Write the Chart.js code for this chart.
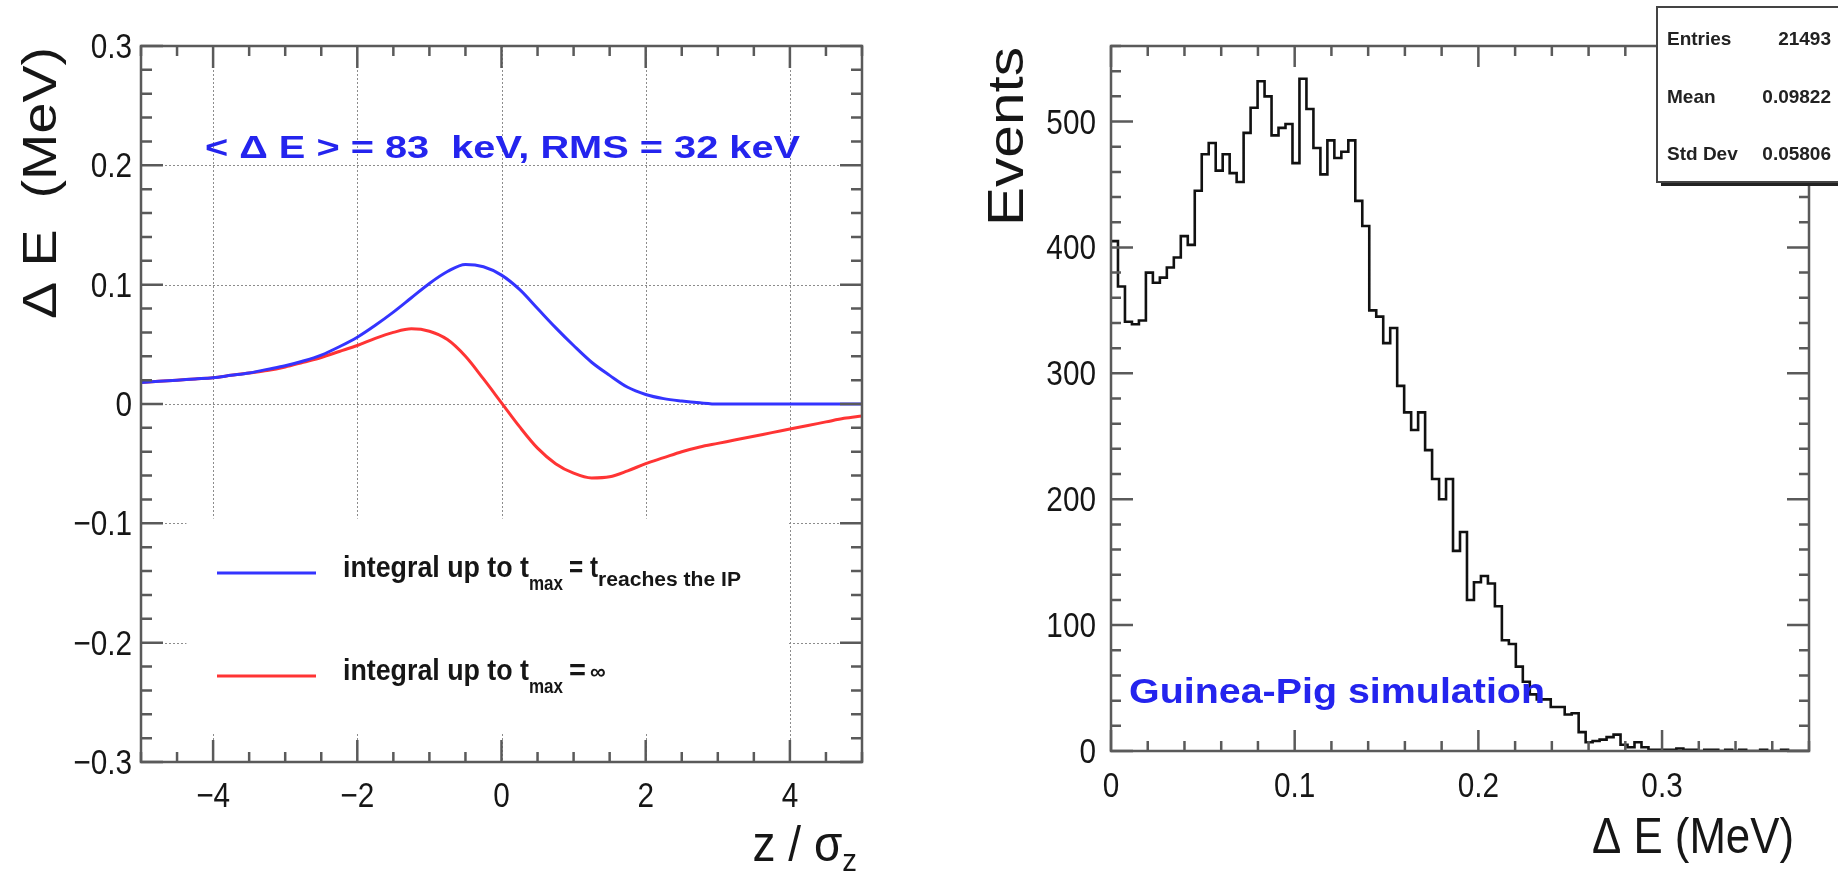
<!DOCTYPE html>
<html>
<head>
<meta charset="utf-8">
<script src="https://cdn.jsdelivr.net/npm/chart.js@4.4.1/dist/chart.umd.min.js"></script>
<style>
html, body { margin: 0; padding: 0; background: #fff; }
body { width: 1838px; height: 874px; position: relative; overflow: hidden; }
#left { position: absolute; left: 0; top: 0; }
#right { position: absolute; left: 930px; top: 0; }
</style>
</head>
<body>
<canvas id="left" width="930" height="874"></canvas>
<canvas id="right" width="908" height="874"></canvas>
<script>
// ---- left panel: energy change vs position in the bunch ----
const zPos = [-5, -4.75, -4.5, -4.25, -4, -3.75, -3.5, -3.25, -3, -2.75, -2.5, -2.25, -2, -1.75, -1.5, -1.25, -1, -0.75, -0.5, -0.25,
  0, 0.25, 0.5, 0.75, 1, 1.25, 1.5, 1.75, 2, 2.25, 2.5, 2.75, 3, 3.25, 3.5, 3.75, 4, 4.25, 4.5, 4.75, 5]
const dEReachIP = [0.018, 0.019, 0.020, 0.021, 0.022, 0.024, 0.026, 0.029, 0.032, 0.036, 0.041, 0.048, 0.056, 0.066, 0.077, 0.089, 0.101, 0.111, 0.117, 0.115,
  0.108, 0.096, 0.080, 0.064, 0.049, 0.035, 0.024, 0.014, 0.008, 0.0045, 0.0025, 0.001, 0, 0, 0, 0, 0, 0, 0, 0, 0]
const dEInfinity = [0.018, 0.019, 0.020, 0.021, 0.022, 0.024, 0.026, 0.028, 0.031, 0.035, 0.039, 0.044, 0.049, 0.055, 0.060, 0.063, 0.061, 0.054, 0.040, 0.021,
  0.001, -0.019, -0.037, -0.050, -0.058, -0.062, -0.061, -0.056, -0.050, -0.045, -0.040, -0.036, -0.033, -0.030, -0.027, -0.024, -0.021, -0.018, -0.015, -0.012, -0.010]
const zTicks = [-4, -2, 0, 2, 4]
const dETicks = [-0.3, -0.2, -0.1, 0, 0.1, 0.2, 0.3]

// ---- right panel: Guinea-Pig histogram, 100 bins on [0, 0.38] MeV ----
const eMin = 0
const eMax = 0.38
const counts = [405, 369, 341, 339, 342, 380, 372, 376, 384, 392,
  409, 402, 445, 474, 483, 461, 474, 459, 452, 491,
  511, 532, 520, 489, 495, 498, 467, 534, 510, 479,
  458, 485, 471, 476, 485, 437, 417, 350, 345, 324,
  336, 290, 269, 255, 269, 239, 216, 200, 216, 159,
  174, 120, 134, 139, 133, 115, 88, 85, 67, 55,
  45, 41, 41, 35, 35, 29, 30, 15, 7, 8,
  9, 11, 13, 5, 3, 7, 3, 1, 1, 1,
  1, 2, 1, 1, 0, 1, 1, 0, 1, 0,
  1, 0, 0, 1, 0, 0, 1, 0, 0, 0]
const eTicks = [0, 0.1, 0.2, 0.3]
const eventTicks = [0, 100, 200, 300, 400, 500]
const statNames = ["Entries", "Mean", "Std Dev"]
const statValues = ["21493", "0.09822", "0.05806"]

const FONT = "'Liberation Sans', Arial, Helvetica, sans-serif"
const BLUE_TXT = "#2424ee"
const TICK_FONT = "35px " + FONT

// draws text, optionally squeezed/stretched to a given width, returns the drawn width
function put(ctx, s, x, y, o = {}) {
	ctx.save()
	ctx.font = o.font || TICK_FONT
	ctx.fillStyle = o.color || "#161616"
	ctx.textBaseline = "alphabetic"
	ctx.textAlign = "left"
	const w = ctx.measureText(s).width
	const k = o.fit ? o.fit / w : (o.sx || 1)
	ctx.translate(x, y)
	if (o.rot) ctx.rotate(o.rot)
	ctx.scale(k, o.sy || 1)
	const shift = o.align === "right" ? -w : o.align === "center" ? -w / 2 : 0
	ctx.fillText(s, shift, 0)
	ctx.restore()
	return w * k
}

function steps(min, max, step) {
	const out = []
	for (let i = 0; ; i++) {
		const v = +(min + i * step).toFixed(6)
		if (v > max + 1e-9) break
		out.push(v)
	}
	return out
}

// ROOT style frame with inward ticks on all four sides
function rootFrame(ctx, a, x, y, t) {
	ctx.save()
	ctx.strokeStyle = "#5a5a5a"
	ctx.lineWidth = 2.5
	ctx.beginPath()
	const xt = (vals, len) => vals.forEach((v) => {
		const p = x.getPixelForValue(v)
		ctx.moveTo(p, a.bottom); ctx.lineTo(p, a.bottom - len)
		ctx.moveTo(p, a.top); ctx.lineTo(p, a.top + len)
	})
	const yt = (vals, len) => vals.forEach((v) => {
		const p = y.getPixelForValue(v)
		ctx.moveTo(a.left, p); ctx.lineTo(a.left + len, p)
		ctx.moveTo(a.right, p); ctx.lineTo(a.right - len, p)
	})
	xt(t.xMinor, t.xMinLen); xt(t.xMajor, t.xMajLen)
	yt(t.yMinor, t.yMinLen); yt(t.yMajor, t.yMajLen)
	ctx.stroke()
	ctx.strokeRect(a.left, a.top, a.right - a.left, a.bottom - a.top)
	ctx.restore()
}

const fmtSigned = (v, d) => (v === 0 ? "0" : (v < 0 ? "\u2212" : "") + Math.abs(v).toFixed(d))

const leftPanel = {
	id: "leftPanel",
	beforeDatasetsDraw(chart) {
		const { ctx, chartArea: a, scales: { x, y } } = chart
		ctx.save()
		ctx.strokeStyle = "#8c8c8c"
		ctx.lineWidth = 1
		ctx.setLineDash([2, 2])
		ctx.beginPath()
		zTicks.forEach((v) => {
			const p = Math.round(x.getPixelForValue(v)) + 0.5
			ctx.moveTo(p, a.top); ctx.lineTo(p, a.bottom)
		})
		dETicks.slice(1, -1).forEach((v) => {
			const p = Math.round(y.getPixelForValue(v)) + 0.5
			ctx.moveTo(a.left, p); ctx.lineTo(a.right, p)
		})
		ctx.stroke()
		ctx.restore()
		// legend pad hides the grid behind it
		const lx0 = x.getPixelForValue(-4.37), lx1 = x.getPixelForValue(3.97)
		const ly0 = y.getPixelForValue(-0.096), ly1 = y.getPixelForValue(-0.275)
		ctx.fillStyle = "#fff"
		ctx.fillRect(lx0, ly0, lx1 - lx0, ly1 - ly0)
	},
	afterDatasetsDraw(chart) {
		const { ctx, chartArea: a, scales: { x, y } } = chart
		rootFrame(ctx, a, x, y, {
			xMajor: zTicks, xMinor: steps(-5, 5, 0.5), xMajLen: 22, xMinLen: 10,
			yMajor: dETicks, yMinor: steps(-0.3, 0.3, 0.02), yMajLen: 22, yMinLen: 11,
		})
		zTicks.forEach((v) => put(ctx, fmtSigned(v, 0), x.getPixelForValue(v), 807, { align: "center", sx: 0.85 }))
		dETicks.forEach((v) => put(ctx, fmtSigned(v, 1), 132, y.getPixelForValue(v) + 12, { align: "right", sx: 0.85 }))

		// axis titles
		put(ctx, "\u0394 E  (MeV)", 56, 47, { font: "48px " + FONT, rot: -Math.PI / 2, align: "right", fit: 272 })
		const big = "50px " + FONT, small = "32px " + FONT
		ctx.font = small
		const wSub = ctx.measureText("z").width * 0.92
		ctx.font = big
		const wMain = ctx.measureText("z / \u03c3").width * 0.92
		const x0 = 857 - wMain - wSub
		put(ctx, "z / \u03c3", x0, 861, { font: big, sx: 0.92 })
		put(ctx, "z", x0 + wMain, 871, { font: small, sx: 0.92 })

		// annotation
		put(ctx, "< \u0394 E > = 83  keV, RMS = 32 keV", 205, 158, { font: "bold 32px " + FONT, color: BLUE_TXT, fit: 595 })

		// legend
		const rows = [
			{ color: "#3434ff", y: 573 },
			{ color: "#ff3434", y: 676 },
		]
		rows.forEach((r) => {
			ctx.save()
			ctx.strokeStyle = r.color
			ctx.lineWidth = 3
			ctx.beginPath(); ctx.moveTo(217, r.y); ctx.lineTo(316, r.y); ctx.stroke()
			ctx.restore()
		})
		const bold = (s) => "bold " + s + "px " + FONT
		let b = 577
		put(ctx, "integral up to t", 343, b, { font: bold(29), fit: 186 })
		put(ctx, "max", 529, b + 13, { font: bold(20), fit: 34 })
		put(ctx, "= t", 569, b, { font: bold(29), fit: 29 })
		put(ctx, "reaches the IP", 598, b + 9, { font: bold(20), fit: 143 })
		b = 680
		put(ctx, "integral up to t", 343, b, { font: bold(29), fit: 186 })
		put(ctx, "max", 529, b + 13, { font: bold(20), fit: 34 })
		put(ctx, "=", 569, b, { font: bold(29) })
		put(ctx, "\u221e", 590, b - 1, { font: bold(22) })
	},
}

const rightPanel = {
	id: "rightPanel",
	afterDatasetsDraw(chart) {
		const { ctx, chartArea: a, scales: { x, y } } = chart
		rootFrame(ctx, a, x, y, {
			xMajor: eTicks, xMinor: steps(0, 0.38, 0.02), xMajLen: 21, xMinLen: 10,
			yMajor: eventTicks, yMinor: steps(0, 560, 20), yMajLen: 22, yMinLen: 10,
		})
		eTicks.forEach((v) => put(ctx, v === 0 ? "0" : v.toFixed(1), x.getPixelForValue(v), 797, { align: "center", sx: 0.85 }))
		eventTicks.forEach((v) => put(ctx, String(v), 166, y.getPixelForValue(v) + 12, { align: "right", sx: 0.85 }))

		put(ctx, "Events", 93, 47, { font: "50px " + FONT, rot: -Math.PI / 2, align: "right", fit: 179 })
		put(ctx, "\u0394 E (MeV)", 864, 853, { font: "50px " + FONT, align: "right", fit: 202 })
		put(ctx, "Guinea-Pig simulation", 199, 703, { font: "bold 35px " + FONT, color: BLUE_TXT, fit: 416 })

		// stats box
		const bx = 727, by = 7, bw = 200, bh = 175
		ctx.save()
		ctx.fillStyle = "#222"
		ctx.fillRect(bx + 4, by + 4, bw, bh)
		ctx.fillStyle = "#fff"
		ctx.fillRect(bx, by, bw, bh)
		ctx.strokeStyle = "#444"
		ctx.lineWidth = 2
		ctx.strokeRect(bx, by, bw, bh)
		ctx.restore()
		statNames.forEach((n, i) => {
			const yy = 45 + i * 57.5
			put(ctx, n, 737, yy, { font: "bold 19px " + FONT, color: "#222" })
			put(ctx, statValues[i], 901, yy, { font: "bold 19px " + FONT, color: "#222", align: "right" })
		})
	},
}

const common = {
	responsive: false,
	animation: false,
	devicePixelRatio: 1,
	events: [],
	plugins: { legend: { display: false }, tooltip: { enabled: false } },
}

const hidden = { ticks: { display: false }, grid: { display: false }, border: { display: false } }

new Chart(document.getElementById("left"), {
	type: "line",
	data: {
		datasets: [
			{
				label: "integral up to t_max = t_reaches the IP",
				data: zPos.map((z, i) => ({ x: z, y: dEReachIP[i] })),
				borderColor: "#3434ff",
				borderWidth: 3,
				pointRadius: 0,
				cubicInterpolationMode: "monotone",
			},
			{
				label: "integral up to t_max = inf",
				data: zPos.map((z, i) => ({ x: z, y: dEInfinity[i] })),
				borderColor: "#ff3434",
				borderWidth: 3,
				pointRadius: 0,
				cubicInterpolationMode: "monotone",
			},
		],
	},
	options: {
		...common,
		layout: { padding: { left: 0, right: 930 - 862, top: 46, bottom: 0 } },
		scales: {
			x: { type: "linear", min: -5, max: 5, ...hidden, afterFit: (s) => { s.height = 874 - 762 } },
			y: { type: "linear", min: -0.3, max: 0.3, ...hidden, afterFit: (s) => { s.width = 141 } },
		},
	},
	plugins: [leftPanel],
})

// bin lower edges; the extra last point closes the final bin
const binWidth = (eMax - eMin) / counts.length
const histPoints = counts.map((c, i) => ({ x: eMin + i * binWidth, y: c }))
histPoints.push({ x: eMax, y: counts[counts.length - 1] })

new Chart(document.getElementById("right"), {
	type: "line",
	data: {
		datasets: [
			{
				label: "Events",
				data: histPoints,
				stepped: "before",
				borderColor: "#111",
				borderWidth: 2.6,
				borderJoinStyle: "miter",
				pointRadius: 0,
			},
		],
	},
	options: {
		...common,
		layout: { padding: { left: 0, right: 908 - 879, top: 46, bottom: 0 } },
		scales: {
			x: { type: "linear", min: eMin, max: eMax, ...hidden, afterFit: (s) => { s.height = 874 - 751 } },
			y: { type: "linear", min: 0, max: 560, ...hidden, afterFit: (s) => { s.width = 181 } },
		},
	},
	plugins: [rightPanel],
})
</script>
</body>
</html>
